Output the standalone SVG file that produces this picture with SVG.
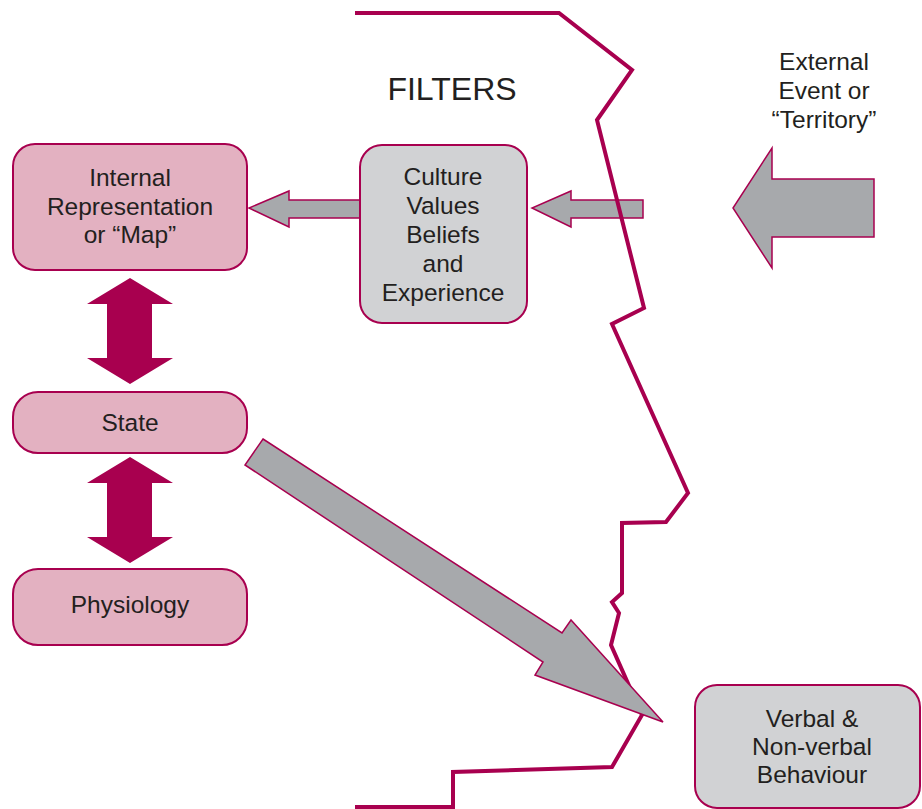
<svg xmlns="http://www.w3.org/2000/svg" width="922" height="809" viewBox="0 0 922 809">
<style>
.t{font-family:"Liberation Sans",Arial,sans-serif;font-size:24.5px;fill:#231f20;text-anchor:middle}
.pink{fill:#e3b1c1;stroke:#a8004f;stroke-width:2}
.grey{fill:#d1d2d4;stroke:#a8004f;stroke-width:2}
.arr{fill:#a7a9ac;stroke:#a8004f;stroke-width:1.5;stroke-linejoin:miter}
.dbl{fill:#a8004f}
.prof{fill:none;stroke:#a8004f;stroke-width:4;stroke-linejoin:miter}
</style>
<rect width="922" height="809" fill="#ffffff"/>
<g id="connectors">
<polygon class="arr" points="874,179 772,179 772,148 733,208 772,268 772,237 874,237"/>
<polygon class="arr" points="643,200 571,200 571,191 532,208 571,227 571,218 643,218"/>
<polygon class="arr" points="360,200 289,200 289,191 249,208 289,227 289,218 360,218"/>
<polygon class="dbl" points="130,278 173,304 152,304 152,358 173,358 130,384 87,358 107,358 107,304 87,304"/>
<polygon class="dbl" points="130,457 173,483 152,483 152,537 173,537 130,563 87,537 107,537 107,483 87,483"/>
</g>
<g id="profile">
<polyline class="prof" points="355,13 559,13 632,70 597,120 644,308 612,324 688,493 666,522 622,523 622,593 612,602 619,613 611,645 642,715 612,767 453,772 453,807 355,807"/>
</g>
<g id="connector-diagonal">
<polygon class="arr" points="263,439 562,633 571,620 663,722 535,675 543,662 245,465"/>
</g>
<text class="t" x="452" y="100" style="font-size:32px">FILTERS</text>
<g id="internal">
<rect class="pink" x="13" y="144" width="234" height="126" rx="22"/>
<text class="t" x="130" y="186">Internal</text>
<text class="t" x="130" y="215">Representation</text>
<text class="t" x="130" y="243">or “Map”</text>
</g>
<g id="culture">
<rect class="grey" x="360" y="145" width="167" height="178" rx="22"/>
<text class="t" x="443" y="185">Culture</text>
<text class="t" x="443" y="214">Values</text>
<text class="t" x="443" y="243">Beliefs</text>
<text class="t" x="443" y="272">and</text>
<text class="t" x="443" y="301">Experience</text>
</g>
<g id="external">
<text class="t" x="824" y="70">External</text>
<text class="t" x="824" y="99">Event or</text>
<text class="t" x="824" y="128">“Territory”</text>
</g>
<g id="state">
<rect class="pink" x="13" y="392" width="234" height="61" rx="25"/>
<text class="t" x="130" y="431">State</text>
</g>
<g id="physiology">
<rect class="pink" x="13" y="569" width="234" height="76" rx="25"/>
<text class="t" x="130" y="613">Physiology</text>
</g>
<g id="behaviour">
<rect class="grey" x="695" y="685" width="225" height="123" rx="22"/>
<text class="t" x="812" y="727">Verbal &amp;</text>
<text class="t" x="812" y="755">Non-verbal</text>
<text class="t" x="812" y="783">Behaviour</text>
</g>
</svg>
